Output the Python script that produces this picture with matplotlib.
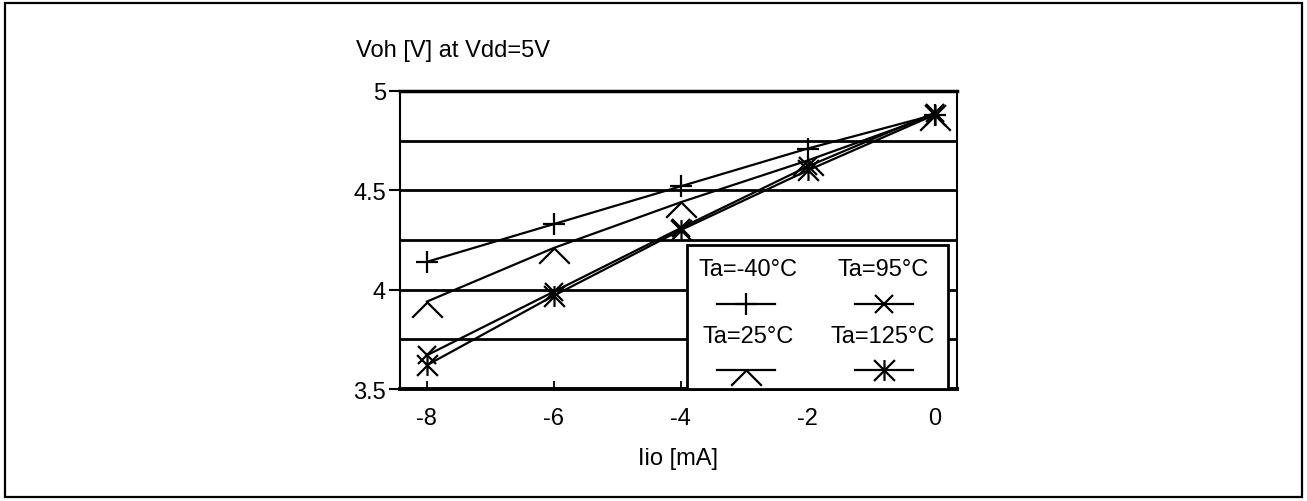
import matplotlib.pyplot as plt
from matplotlib.path import Path
from matplotlib.patches import Rectangle

plt.rcParams['font.family'] = ['Liberation Sans', 'DejaVu Sans']
plt.rcParams['font.size'] = 17

# data
current = [-8, -6, -4, -2, 0]
v_m40 = [4.14, 4.33, 4.52, 4.71, 4.88]
v_25 = [3.94, 4.21, 4.44, 4.65, 4.88]
v_95 = [3.67, 3.99, 4.31, 4.62, 4.89]
v_125 = [3.62, 3.97, 4.30, 4.60, 4.88]
labels = ['Ta=-40°C', 'Ta=25°C', 'Ta=95°C', 'Ta=125°C']

x_ticks = [-8, -6, -4, -2, 0]
x_tick_labels = ['-8', '-6', '-4', '-2', '0']
y_ticks = [3.5, 4, 4.5, 5]
y_tick_labels = ['3.5', '4', '4.5', '5']
y_grid = [3.75, 4.0, 4.25, 4.5, 4.75]

# custom markers
lambda_marker = Path([(-1, -1), (0, 0), (1, -1)],
                     [Path.MOVETO, Path.LINETO, Path.LINETO])
aster_marker = Path([(0, -1), (0, 1), (-1, -1), (1, 1), (-1, 1), (1, -1)],
                    [Path.MOVETO, Path.LINETO, Path.MOVETO, Path.LINETO,
                     Path.MOVETO, Path.LINETO])

styles = [
    dict(marker='+', markersize=16),
    dict(marker=lambda_marker, markersize=22, fillstyle='none'),
    dict(marker='x', markersize=13),
    dict(marker=aster_marker, markersize=15),
]
series = [v_m40, v_25, v_95, v_125]

fig = plt.figure(figsize=(13.07, 5.02), dpi=100)
fig.patches.append(Rectangle((0.004, 0.008), 0.992, 0.984, transform=fig.transFigure,
                             fill=False, edgecolor='black', linewidth=1.6))

ax = fig.add_axes([0.306, 0.223, 0.426, 0.594])

for yv in y_grid:
    ax.axhline(yv, color='black', linewidth=2, zorder=1)

for vals, st in zip(series, styles):
    ax.plot(current, vals, color='black', linewidth=1.6, markeredgewidth=1.6,
            zorder=3, **st)

ax.set_xlim(-8.425, 0.346)
ax.set_ylim(3.5, 5)
ax.set_xticks(x_ticks)
ax.set_xticklabels(x_tick_labels)
ax.set_yticks(y_ticks)
ax.set_yticklabels(y_tick_labels)
ax.tick_params(axis='x', direction='in', length=6, width=1.3, pad=13)
ax.tick_params(axis='y', direction='out', length=8, width=1.5, pad=2)

ax.spines['top'].set_linewidth(2.5)
ax.spines['bottom'].set_linewidth(2.8)
ax.spines['left'].set_linewidth(1.5)
ax.spines['right'].set_linewidth(1.5)

ax.set_xlabel('Iio [mA]', labelpad=13)
fig.text(0.272, 0.898, 'Voh [V] at Vdd=5V', ha='left', va='center')

# legend box, labels above their handles
ax.add_patch(Rectangle((0.515, 0.0), 0.469, 0.483, transform=ax.transAxes,
                       facecolor='white', edgecolor='black', linewidth=2,
                       zorder=4, clip_on=False))
leg_cols = [(0.625, 0.569, 0.673), (0.867, 0.817, 0.921)]
leg_rows = [(0.403, 0.285), (0.178, 0.064)]
order = [(0, 0), (1, 0), (0, 1), (1, 1)]  # (row, col) for -40, 25, 95, 125
for (r, c), lab, st in zip(order, labels, styles):
    xc, x0, x1 = leg_cols[c]
    yt, yl = leg_rows[r]
    ax.text(xc, yt, lab, transform=ax.transAxes, ha='center', va='center', zorder=5)
    ax.plot([x0, (x0 + x1) / 2, x1], [yl, yl, yl], transform=ax.transAxes,
            color='black', linewidth=1.6, markeredgewidth=1.6, markevery=[1],
            zorder=5, clip_on=False, **st)

fig.savefig('out.png', dpi=100)
